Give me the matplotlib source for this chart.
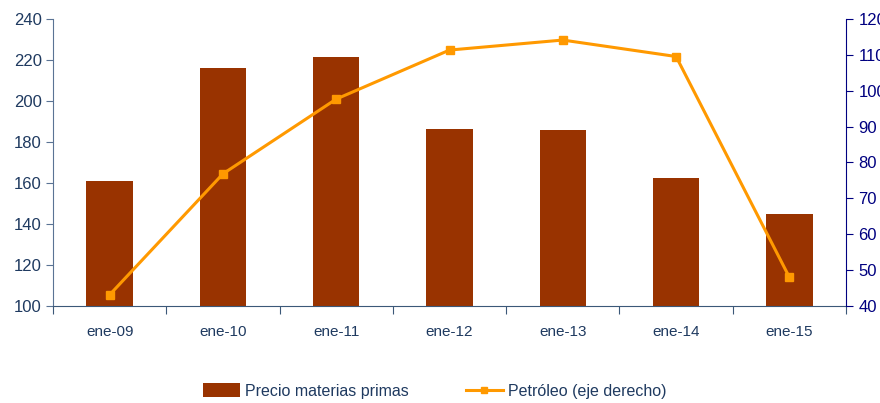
import matplotlib.pyplot as plt
from matplotlib.lines import Line2D
from matplotlib.patches import Patch

plt.rcParams['font.family'] = ['Liberation Sans', 'DejaVu Sans']

categorias = ['ene-09', 'ene-10', 'ene-11', 'ene-12', 'ene-13', 'ene-14', 'ene-15']
materias_primas = [161, 216, 221.5, 186.5, 186, 162.5, 145]
petroleo = [43, 76.8, 97.7, 111.4, 114.2, 109.6, 47.9]

color_barra = '#993300'
color_linea = '#FF9900'
color_texto = '#1F3A60'
color_der = '#000080'

fig = plt.figure(figsize=(8.8, 4.03), dpi=100)
ax = fig.add_axes([53/880, 1 - 305.5/403, (846 - 53)/880, (305.5 - 19.3)/403])
ax2 = ax.twinx()

x = range(len(categorias))
ax.bar(x, materias_primas, width=0.41, color=color_barra, zorder=2)
ax2.plot(x, petroleo, color=color_linea, lw=2.2, marker='s', ms=6, zorder=3)

ax.set_xlim(-0.5, len(categorias) - 0.5)
ax.set_ylim(100, 240)
ax.set_yticks(range(100, 241, 20))
ax2.set_ylim(40, 120)
ax2.set_yticks(range(40, 121, 10))

# marcas del eje x entre categorias
ax.set_xticks([i + 0.5 for i in range(-1, len(categorias))], minor=False)
ax.set_xticklabels([])
ax.set_xticks(list(x), minor=True)
ax.set_xticklabels(categorias, minor=True)
ax.tick_params(axis='x', which='major', length=6, color='#3B5878', direction='out')
ax.tick_params(axis='x', which='minor', length=0, pad=14, labelsize=11, labelcolor=color_texto)
ax.tick_params(axis='y', length=5, color='#5A7394', labelsize=12, labelcolor=color_texto, pad=3)
ax2.tick_params(axis='y', length=5, color=color_der, labelsize=12, labelcolor=color_der, pad=4)

for s in ['top', 'right']:
    ax.spines[s].set_visible(False)
for s in ['top', 'left', 'bottom']:
    ax2.spines[s].set_visible(False)
ax.spines['left'].set_color('#5A7394')
ax.spines['bottom'].set_color('#3B5878')
ax2.spines['right'].set_color(color_der)

handles = [Patch(facecolor=color_barra, label='Precio materias primas'),
           Line2D([0], [0], color=color_linea, lw=2.2, marker='s', ms=5, label='Petróleo (eje derecho)')]
leg = fig.legend(handles=handles, loc='center', bbox_to_anchor=(0.494, 1 - 391/403), ncol=2,
                 frameon=False, fontsize=11.5, handlelength=2.3, handleheight=1.0,
                 columnspacing=3.6, handletextpad=0.3)
for t in leg.get_texts():
    t.set_color(color_texto)

fig.savefig('out.png', dpi=100)
